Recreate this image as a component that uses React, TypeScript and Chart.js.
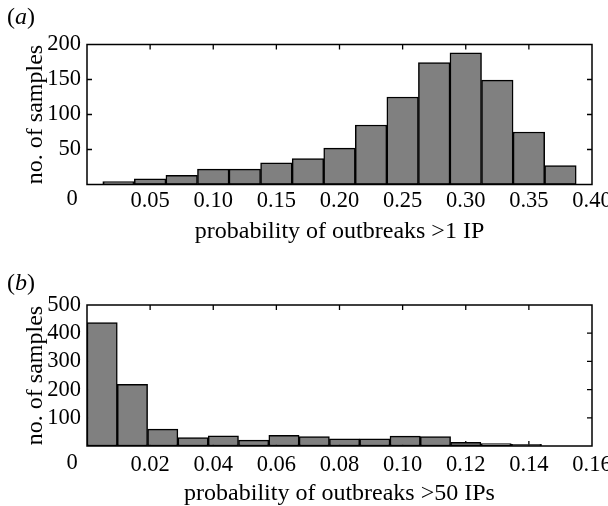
import React, { useEffect, useRef } from 'react';
import { Chart, registerables } from 'chart.js';

Chart.register(...registerables);

// Panel (a): probability of outbreaks >1 IP
const binCentersA = [0.025, 0.05, 0.075, 0.1, 0.125, 0.15, 0.175, 0.2, 0.225, 0.25, 0.275, 0.3, 0.325, 0.35, 0.375];
const countsA = [4, 8, 13, 22, 22, 31, 37, 52, 85, 125, 174, 188, 149, 75, 27];

// Panel (b): probability of outbreaks >50 IPs
const binCentersB = [0.0048, 0.0144, 0.024, 0.0336, 0.0432, 0.0528, 0.0624, 0.072, 0.0816, 0.0912, 0.1008, 0.1104, 0.12, 0.1296, 0.1392];
const countsB = [438, 219, 60, 30, 36, 21, 38, 33, 25, 25, 35, 33, 13, 9, 6];

const xTitleA = 'probability of outbreaks >1 IP';
const xTitleB = 'probability of outbreaks >50 IPs';
const yTitle = 'no. of samples';

const FONT = '"Liberation Serif", "Times New Roman", serif';
const FS = 24; // titles
const TFS = 22.5; // tick labels

type PanelOpts = {
  centers: number[];
  counts: number[];
  xMax: number;
  xStep: number;
  yMax: number;
  yStep: number;
  xTitle: string;
  letter: string;
  top: number;
  xHeight: number;
  tickPad: number;
  titlePadBottom: number;
  labelY: number;
};

const W = 608;
const H = 253;

function makeConfig(o: PanelOpts): any {
  const framePlugin = {
    id: 'frame' + o.letter,
    beforeDatasetsDraw(chart: any) {
      const { ctx, chartArea: a, scales } = chart;
      const xs = scales.x, ys = scales.y;
      const TL = 5;
      ctx.save();
      ctx.strokeStyle = '#000';
      ctx.lineWidth = 1.3;
      ctx.beginPath();
      xs.ticks.forEach((t: any) => {
        const px = xs.getPixelForValue(t.value);
        if (px <= a.left + 1 || px >= a.right - 1) return;
        ctx.moveTo(px, a.bottom); ctx.lineTo(px, a.bottom - TL);
        ctx.moveTo(px, a.top); ctx.lineTo(px, a.top + TL);
      });
      ys.ticks.forEach((t: any) => {
        const py = ys.getPixelForValue(t.value);
        if (py <= a.top + 1 || py >= a.bottom - 1) return;
        ctx.moveTo(a.left, py); ctx.lineTo(a.left + TL, py);
        ctx.moveTo(a.right, py); ctx.lineTo(a.right - TL, py);
      });
      ctx.stroke();
      ctx.restore();
    },
    afterDatasetsDraw(chart: any) {
      const { ctx, chartArea: a } = chart;
      ctx.save();
      ctx.strokeStyle = '#000';
      ctx.lineWidth = 1.5;
      ctx.strokeRect(a.left, a.top, a.right - a.left, a.bottom - a.top);
      ctx.restore();
    },
    afterDraw(chart: any) {
      const { ctx, chartArea: a } = chart;
      ctx.save();
      ctx.fillStyle = '#000';
      ctx.textBaseline = 'top';
      ctx.textAlign = 'center';
      ctx.font = `${TFS}px ${FONT}`;
      // the zero label sits left of the origin, as in the reference
      ctx.fillText('0', a.left - 15, a.bottom + o.tickPad);
      // panel letter
      ctx.textAlign = 'left';
      ctx.textBaseline = 'middle';
      let x = 7;
      ctx.font = `${FS}px ${FONT}`;
      ctx.fillText('(', x, o.labelY);
      x += ctx.measureText('(').width;
      ctx.font = `italic ${FS}px ${FONT}`;
      ctx.fillText(o.letter, x, o.labelY);
      x += ctx.measureText(o.letter).width;
      ctx.font = `${FS}px ${FONT}`;
      ctx.fillText(')', x, o.labelY);
      ctx.restore();
    },
  };

  return {
    type: 'bar',
    data: {
      datasets: [
        {
          data: o.centers.map((c, i) => ({ x: c, y: o.counts[i] })),
          backgroundColor: '#808080',
          borderColor: '#000',
          borderWidth: 1.5,
          borderSkipped: false,
          barPercentage: 1,
          categoryPercentage: 1,
        },
      ],
    },
    options: {
      responsive: false,
      animation: false,
      layout: { padding: { top: o.top, right: 16, left: 0, bottom: 0 } },
      plugins: { legend: { display: false }, tooltip: { enabled: false } },
      scales: {
        x: {
          type: 'linear',
          min: 0,
          max: o.xMax,
          offset: false,
          grid: { display: false, drawTicks: false },
          border: { display: false },
          ticks: {
            stepSize: o.xStep,
            padding: o.tickPad,
            maxRotation: 0,
            autoSkip: false,
            color: '#000',
            font: { family: FONT, size: TFS },
            callback: (v: number) => (Math.abs(v) < 1e-9 ? '' : v.toFixed(2)),
          },
          title: {
            display: true,
            text: o.xTitle,
            color: '#000',
            font: { family: FONT, size: FS },
            padding: { top: 0, bottom: o.titlePadBottom },
          },
          afterFit: (s: any) => {
            s.height = o.xHeight;
            s.paddingLeft = 0;
            s.paddingRight = 0;
          },
        },
        y: {
          type: 'linear',
          min: 0,
          max: o.yMax,
          grid: { display: false, drawTicks: false },
          border: { display: false },
          ticks: {
            stepSize: o.yStep,
            padding: 6,
            autoSkip: false,
            color: '#000',
            font: { family: FONT, size: TFS },
            callback: (v: number) => (v === 0 ? '' : String(v)),
          },
          title: {
            display: true,
            text: yTitle,
            color: '#000',
            font: { family: FONT, size: FS },
            padding: { top: 21, bottom: 0 },
          },
          afterFit: (s: any) => {
            s.width = 87;
            s.paddingTop = 0;
            s.paddingBottom = 0;
          },
        },
      },
    },
    plugins: [framePlugin],
  };
}

export default function App() {
  const refA = useRef<HTMLCanvasElement | null>(null);
  const refB = useRef<HTMLCanvasElement | null>(null);

  useEffect(() => {
    const chartA = new Chart(
      refA.current as HTMLCanvasElement,
      makeConfig({
        centers: binCentersA,
        counts: countsA,
        xMax: 0.4,
        xStep: 0.05,
        yMax: 200,
        yStep: 50,
        xTitle: xTitleA,
        letter: 'a',
        top: 44.5,
        xHeight: 68.5,
        tickPad: 3,
        titlePadBottom: 6.6,
        labelY: 18,
      })
    );
    const chartB = new Chart(
      refB.current as HTMLCanvasElement,
      makeConfig({
        centers: binCentersB,
        counts: countsB,
        xMax: 0.16,
        xStep: 0.02,
        yMax: 500,
        yStep: 100,
        xTitle: xTitleB,
        letter: 'b',
        top: 52,
        xHeight: 60,
        tickPad: 6,
        titlePadBottom: -2,
        labelY: 31,
      })
    );
    return () => {
      chartA.destroy();
      chartB.destroy();
    };
  }, []);

  return (
    <div style={{ position: 'fixed', left: 0, top: 0, width: W, height: 2 * H, background: '#fff' }}>
      <canvas ref={refA} width={W} height={H} style={{ display: 'block' }} />
      <canvas ref={refB} width={W} height={H} style={{ display: 'block' }} />
    </div>
  );
}
